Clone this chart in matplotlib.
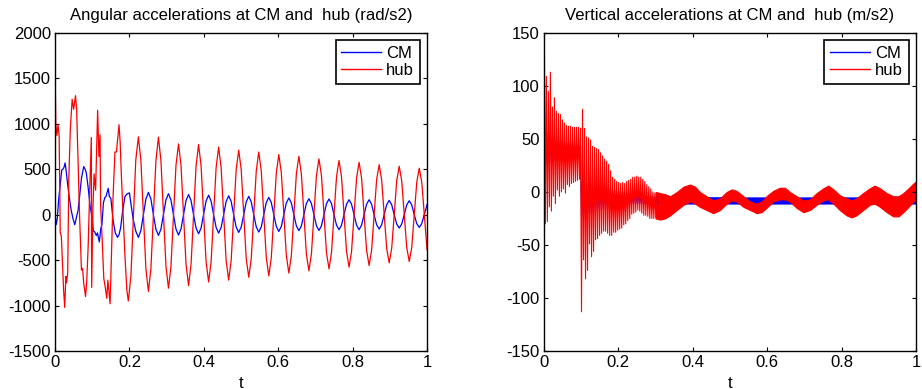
import numpy as np
import matplotlib
matplotlib.use("Agg")
import matplotlib.pyplot as plt
from matplotlib.lines import Line2D

plt.rcParams['font.family'] = ['Liberation Sans', 'DejaVu Sans']
plt.rcParams['axes.unicode_minus'] = False

# ---- angular accelerations (left) ----
# irregular start, hub
t_hub_start = [0.000, 0.002, 0.005, 0.008, 0.011, 0.014, 0.017, 0.020, 0.023, 0.026,
               0.029, 0.031, 0.034, 0.037, 0.041, 0.046, 0.050, 0.055, 0.058, 0.062,
               0.066, 0.071, 0.074, 0.077, 0.082, 0.085, 0.089, 0.093, 0.0975, 0.0985,
               0.102, 0.105, 0.109, 0.1145, 0.118, 0.121, 0.1225, 0.127, 0.131, 0.135,
               0.139, 0.142, 0.148, 0.152, 0.156, 0.161, 0.165, 0.172, 0.175, 0.178,
               0.183, 0.188, 0.193, 0.197, 0.204, 0.2105, 0.217]
ang_hub_start = [1670, 1000, 870, 990, 870, -200, -240, -530, -830, -1020,
                 -680, -750, -640, 390, 940, 1270, 1160, 1310, 1160, 570,
                 -20, -610, -590, -750, -900, -750, -350, 240, 850, -800,
                 100, 450, 270, 1150, 640, 880, 100, -300, -700, -800,
                 -920, -720, -980, -400, 200, 690, 690, 990, 800, 460,
                 0, -460, -830, -950, -670, -40, 600]

# irregular start, CM
t_cm_start = [0.000, 0.003, 0.006, 0.010, 0.014, 0.018, 0.021, 0.024, 0.027, 0.030,
              0.034, 0.038, 0.043, 0.048, 0.053, 0.058, 0.062, 0.066, 0.071, 0.077,
              0.081, 0.084, 0.089, 0.094, 0.099, 0.103, 0.107, 0.111, 0.114, 0.119,
              0.123, 0.126, 0.130, 0.134, 0.137, 0.143, 0.146, 0.150, 0.156, 0.162,
              0.168, 0.172, 0.176, 0.182, 0.188, 0.194, 0.200, 0.204, 0.210, 0.217]
ang_cm_start = [0, -110, -40, 180, 330, 490, 500, 520, 570, 480,
                330, 200, 60, -40, -110, -20, 50, 200, 400, 530,
                500, 460, 300, 100, -20, -180, -190, -230, -200, -300,
                -150, -110, 130, 190, 200, 290, 200, 180, -60, -200,
                -250, -220, -150, 50, 200, 230, 240, 120, -50, -180]

# steady oscillation from t = 0.224 (shared time samples)
t_steady = [0.2240, 0.2307, 0.2375, 0.2442, 0.2510, 0.2577, 0.2644, 0.2712,
            0.2779, 0.2846, 0.2914, 0.2981, 0.3049, 0.3116, 0.3183, 0.3251,
            0.3319, 0.3386, 0.3454, 0.3521, 0.3589, 0.3656, 0.3723, 0.3791,
            0.3858, 0.3925, 0.3993, 0.4060, 0.4128, 0.4195, 0.4262, 0.4330,
            0.4397, 0.4464, 0.4532, 0.4599, 0.4667, 0.4734, 0.4801, 0.4869,
            0.4937, 0.5004, 0.5072, 0.5139, 0.5207, 0.5274, 0.5341, 0.5409,
            0.5476, 0.5543, 0.5611, 0.5678, 0.5746, 0.5813, 0.5880, 0.5948,
            0.6015, 0.6082, 0.6150, 0.6217, 0.6285, 0.6352, 0.6419, 0.6487,
            0.6554, 0.6621, 0.6689, 0.6756, 0.6824, 0.6891, 0.6958, 0.7026,
            0.7094, 0.7161, 0.7229, 0.7296, 0.7364, 0.7431, 0.7498, 0.7566,
            0.7633, 0.7700, 0.7768, 0.7835, 0.7903, 0.7970, 0.8037, 0.8105,
            0.8172, 0.8239, 0.8307, 0.8374, 0.8442, 0.8509, 0.8576, 0.8644,
            0.8712, 0.8779, 0.8847, 0.8914, 0.8982, 0.9049, 0.9116, 0.9184,
            0.9251, 0.9318, 0.9386, 0.9453, 0.9521, 0.9588, 0.9655, 0.9723,
            0.9790, 0.9857, 0.9925, 1.0000]
ang_hub_steady = [857, 600, 5, -592, -846, -592, -10, 597,
                  853, 597, 0, -566, -809, -566, -5, 545,
                  779, 545, -3, -546, -780, -546, -5, 540,
                  772, 540, 0, -518, -740, -518, -8, 520,
                  743, 520, 0, -504, -720, -504, -6, 497,
                  710, 497, -5, -482, -688, -482, -5, 483,
                  690, 483, 0, -471, -673, -471, -8, 463,
                  662, 463, -5, -450, -643, -450, -5, 450,
                  643, 450, 0, -433, -618, -433, -5, 430,
                  614, 430, -3, -417, -596, -417, -5, 417,
                  596, 417, 0, -404, -577, -404, -5, 404,
                  577, 404, -3, -391, -559, -391, -5, 385,
                  550, 385, -3, -371, -530, -371, -5, 373,
                  533, 373, -3, -360, -515, -360, -5, 358,
                  512, 358, 0, -386]
ang_cm_steady = [-250, -175, 0, 172, 246, 172, 0, -160,
                 -228, -160, 0, 162, 232, 162, 0, -157,
                 -224, -157, 0, 155, 222, 155, 0, -147,
                 -210, -147, 0, 150, 215, 150, 0, -141,
                 -202, -141, 0, 146, 208, 146, 0, -136,
                 -195, -136, 0, 141, 202, 141, 0, -134,
                 -191, -134, 0, 134, 191, 134, 0, -129,
                 -184, -129, 0, 129, 184, 129, 0, -123,
                 -176, -123, 0, 123, 176, 123, 0, -121,
                 -173, -121, 0, 121, 173, 121, 0, -115,
                 -165, -115, 0, 115, 165, 115, 0, -115,
                 -165, -115, 0, 115, 165, 115, 0, -110,
                 -158, -110, 0, 110, 158, 110, 0, -103,
                 -147, -103, 0, 108, 154, 108, 0, -98,
                 -140, -98, 0, 110]

# ---- vertical accelerations (right) ----
# fast ringing until ~0.3: alternating top / bottom tips
t_fast_tops = [0.0010, 0.0064, 0.0118, 0.0172, 0.0226, 0.0280, 0.0334, 0.0388, 0.0442, 0.0496,
               0.0550, 0.0604, 0.0658, 0.0712, 0.0766, 0.0820, 0.0874, 0.0928, 0.0982, 0.1036,
               0.1090, 0.1144, 0.1198, 0.1252, 0.1306, 0.1360, 0.1414, 0.1468, 0.1522, 0.1576,
               0.1630, 0.1684, 0.1738, 0.1792, 0.1846, 0.1900, 0.1954, 0.2008, 0.2062, 0.2116,
               0.2170, 0.2224, 0.2278, 0.2332, 0.2386, 0.2440, 0.2494, 0.2548, 0.2602, 0.2656,
               0.2710, 0.2764, 0.2818, 0.2872, 0.2926, 0.2980, 0.3034]
t_fast_bots = [0.0037, 0.0091, 0.0145, 0.0199, 0.0253, 0.0307, 0.0361, 0.0415, 0.0469, 0.0523,
               0.0577, 0.0631, 0.0685, 0.0739, 0.0793, 0.0847, 0.0901, 0.0955, 0.1009, 0.1063,
               0.1117, 0.1171, 0.1225, 0.1279, 0.1333, 0.1387, 0.1441, 0.1495, 0.1549, 0.1603,
               0.1657, 0.1711, 0.1765, 0.1819, 0.1873, 0.1927, 0.1981, 0.2035, 0.2089, 0.2143,
               0.2197, 0.2251, 0.2305, 0.2359, 0.2413, 0.2467, 0.2521, 0.2575, 0.2629, 0.2683,
               0.2737, 0.2791, 0.2845, 0.2899, 0.2953, 0.3007, 0.3061]
vert_hub_tops = [137, 109, 95, 113, 80, 89, 76, 74, 73, 68,
                 65, 63, 62, 62, 61, 61, 61, 61, 60, 78,
                 60, 52, 51, 49, 43, 42, 41, 40, 37, 34,
                 31, 29, 26, 20, 14, 12, 10, 9, 8, 9,
                 8, 10, 11, 12, 14, 14, 15, 14, 14, 12,
                 10, 7, 5, 3, 0, -1, -2]
vert_hub_bots = [-30, -28, -14, -18, -4, -11, 2, -4, 0, 3,
                 -1, 7, 5, 8, 9, 10, 11, 12, -113, -64,
                 -82, -74, -49, -61, -56, -45, -44, -41, -39, -37,
                 -37, -39, -41, -41, -38, -38, -36, -35, -34, -31,
                 -30, -27, -25, -21, -20, -19, -17, -18, -20, -22,
                 -22, -23, -25, -25, -25, -24, -23]
vert_cm_tops = [60, 57, 55, 54, 52, 51, 50, 50, 49, 48,
                48, 47, 47, 46, 46, 45, 45, 45, 44, 10,
                9, 9, 8, 8, 7, 7, 6, 6, 5, 5,
                4, 4, 3, 3, 2, 2, 1, 1, 0, 0,
                -1, -1, -1, -2, -2, -2, -3, -3, -3, -3,
                -4, -4, -4, -4, -4, -5, -5]
vert_cm_bots = [22, 25, 27, 28, 29, 30, 30, 31, 31, 32,
                32, 33, 33, 33, 34, 34, 34, 34, -25, -24,
                -23, -22, -21, -20, -19, -18, -18, -17, -16, -16,
                -15, -15, -14, -14, -13, -13, -13, -12, -12, -12,
                -12, -11, -11, -11, -11, -11, -11, -11, -11, -11,
                -11, -11, -11, -11, -11, -11, -11]

# dense bands after 0.3 (upper / lower edge)
t_hub_band = [0.300, 0.312, 0.325, 0.339, 0.357, 0.375, 0.392, 0.406, 0.419, 0.437,
              0.455, 0.473, 0.491, 0.505, 0.518, 0.536, 0.554, 0.572, 0.585, 0.598,
              0.616, 0.634, 0.648, 0.661, 0.679, 0.697, 0.715, 0.733, 0.751, 0.764,
              0.778, 0.795, 0.813, 0.827, 0.840, 0.858, 0.876, 0.889, 0.903, 0.921,
              0.939, 0.953, 0.966, 0.980, 0.993, 1.000]
hub_band_hi = [0, -1, -2, -4, 0, 5, 7, 5, 0, -4,
               -8, -6, 0, 2.5, 1, -4, -9, -11, -9, -4,
               1, 4, 4, 0, -4, -8, -7, -1, 3.5, 6,
               2.5, -3, -6, -8, -6, -1, 3.5, 6, 3.5, -1,
               -4, -4, -1, 3.5, 8, 10]
hub_band_lo = [-25, -26, -25, -22, -17, -12, -9, -11, -14, -17,
               -20, -17, -11, -8, -9, -14, -17, -20, -19, -15,
               -9, -7, -7, -9, -15, -19, -17, -12, -8, -7,
               -11, -17, -22, -24, -22, -17, -12, -11, -14, -19,
               -23, -23, -19, -14, -9, -8]
t_cm_band = [0.300, 0.500, 0.700, 0.900, 1.000]
cm_band_hi = [-4, -5, -5, -5, -5]
cm_band_lo = [-11, -11, -11, -11, -11]

t_ticks = [0, 0.2, 0.4, 0.6, 0.8, 1]
t_labels = ['0', '0.2', '0.4', '0.6', '0.8', '1']
fs = 12


def style(ax, yticks, title):
    ax.set_xlim(0, 1)
    ax.set_xticks(t_ticks)
    ax.set_xticklabels(t_labels)
    ax.set_yticks(yticks)
    ax.set_ylim(yticks[0], yticks[-1])
    ax.tick_params(direction='in', length=3, width=0.8, top=True, right=True,
                   labelsize=fs, pad=3)
    for s in ax.spines.values():
        s.set_linewidth(1.0)
    ax.set_xlabel('t', fontsize=fs, labelpad=4)
    ax.set_title(title, fontsize=fs, pad=9)
    handles = [Line2D([], [], color='b', lw=1.0), Line2D([], [], color='r', lw=1.0)]
    leg = ax.legend(handles, ['CM', 'hub'], loc='upper right', fontsize=fs,
                    bbox_to_anchor=(1 - 7 / 372, 1 - 7.4 / 317), borderaxespad=0,
                    fancybox=False, framealpha=1, edgecolor='k', handlelength=2.4,
                    handletextpad=0.3, labelspacing=0.1, borderpad=0.35)
    leg.get_frame().set_linewidth(1.2)


fig = plt.figure(figsize=(9.22, 3.89), dpi=100)
ax1 = fig.add_axes([0.0597, 0.0977, 0.4035, 0.8175])
ax2 = fig.add_axes([0.5900, 0.0977, 0.4035, 0.8175])

ax1.plot(t_cm_start + t_steady, ang_cm_start + ang_cm_steady, color='b', lw=0.9)
ax1.plot(t_hub_start + t_steady, ang_hub_start + ang_hub_steady, color='r', lw=0.9)
style(ax1, [-1500, -1000, -500, 0, 500, 1000, 1500, 2000],
      'Angular accelerations at CM and  hub (rad/s2)')

t_zig = np.column_stack([t_fast_tops, t_fast_bots]).ravel()
ax2.plot(t_zig, np.column_stack([vert_cm_tops, vert_cm_bots]).ravel(), color='b', lw=0.8)
ax2.fill_between(t_cm_band, cm_band_lo, cm_band_hi, color='b', lw=0.5)
ax2.plot(t_zig, np.column_stack([vert_hub_tops, vert_hub_bots]).ravel(), color='r', lw=0.8)
ax2.fill_between(t_hub_band, hub_band_lo, hub_band_hi, color='r', lw=0.8, edgecolor='r')
style(ax2, [-150, -100, -50, 0, 50, 100, 150],
      'Vertical accelerations at CM and  hub (m/s2)')

fig.savefig('out.png', dpi=100)
